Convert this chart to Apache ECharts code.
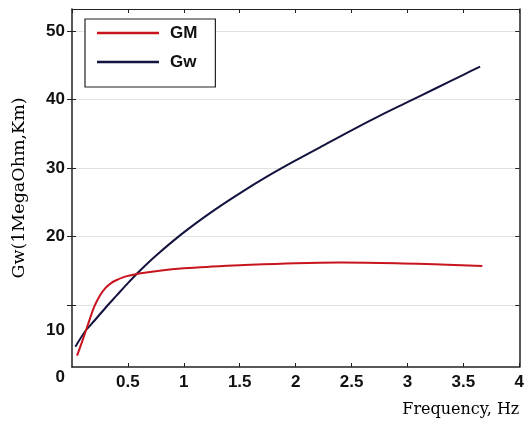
<!DOCTYPE html>
<html>
<head>
<meta charset="utf-8">
<script src="https://cdn.jsdelivr.net/npm/echarts@6/dist/echarts.min.js"></script>
<style>html,body{margin:0;padding:0;background:#fff}#c{width:527px;height:422px}</style>
</head>
<body>
<div id="c"></div>
<script>
// ---- data ----
var gmFreq = [0.045,0.1,0.15,0.2,0.25,0.3,0.35,0.4,0.45,0.5,0.6,0.8,1.0,1.25,1.5,2.0,2.4,2.9,3.3,3.67];
var gmVal  = [2.6,5.1,7.5,9.8,11.4,12.5,13.2,13.65,14.0,14.25,14.6,15.05,15.35,15.6,15.8,16.1,16.2,16.1,15.9,15.7];
var gwFreq = [0.03,0.12,0.2,0.3,0.4,0.5,0.6,0.75,1.0,1.25,1.5,1.75,2.0,2.25,2.5,2.75,3.0,3.25,3.5,3.65];
var gwVal  = [3.9,6.2,7.7,9.6,11.4,13.2,14.9,17.2,20.6,23.6,26.3,28.8,31.1,33.3,35.5,37.6,39.6,41.6,43.6,44.8];
var seriesNames = ['GM','Gw'];
var yTicks = [10,20,30,40,50];
var Y_MIN = 0.95, Y_MAX = 53.2, X_MIN = 0, X_MAX = 4;

function pairs(xs, ys){ return xs.map(function(x,i){ return [x, ys[i]]; }); }

var labelFont = {fontFamily:'Liberation Sans, Arial, sans-serif', fontSize:17, fontWeight:'bold', color:'#111'};
var axisCol = '#222';

var chart = echarts.init(document.getElementById('c'), null, {renderer:'canvas'});
chart.setOption({
  animation:false,
  backgroundColor:'#fff',
  grid:{left:72, right:2, top:9, bottom:55, containLabel:false},
  legend:{
    data:seriesNames, orient:'vertical', left:85, top:19,
    icon:'rect', itemWidth:62, itemHeight:2.5, itemGap:9,
    padding:[4,18,15,12],
    borderColor:'#222', borderWidth:1.2, backgroundColor:'#fff',
    textStyle:{fontFamily:'Liberation Sans, Arial, sans-serif', fontSize:17, fontWeight:'bold', color:'#111', lineHeight:20, padding:[0,0,0,6]}
  },
  xAxis:[{
    type:'value', position:'bottom', min:X_MIN, max:X_MAX, interval:0.5,
    axisLine:{show:true, onZero:false, lineStyle:{color:axisCol, width:1.5}},
    axisTick:{show:true, inside:true, length:4, lineStyle:{color:axisCol}},
    axisLabel:Object.assign({margin:7, showMinLabel:false}, labelFont),
    splitLine:{show:false},
    name:'Frequency, Hz', nameLocation:'end', nameGap:0,
    nameTextStyle:{fontFamily:'DejaVu Serif, serif', fontSize:16, color:'#000', align:'right', verticalAlign:'top', padding:[35,0,0,0]}
  },{
    type:'value', position:'top', min:X_MIN, max:X_MAX, interval:0.5,
    axisLine:{show:true, onZero:false, lineStyle:{color:axisCol, width:1.2}},
    axisTick:{show:true, inside:true, length:4, lineStyle:{color:axisCol}},
    axisLabel:{show:false}, splitLine:{show:false}
  }],
  yAxis:[{
    type:'value', position:'left', min:Y_MIN, max:Y_MAX,
    axisLine:{show:true, onZero:false, lineStyle:{color:axisCol, width:1.5}},
    axisTick:{show:true, inside:false, length:5, customValues:yTicks, lineStyle:{color:axisCol}},
    axisLabel:Object.assign({
      margin:7,
      customValues:[Y_MIN].concat(yTicks),
      formatter:function(v){
        if (Math.abs(v-Y_MIN)<1e-6) return '{z|0}';
        if (v===10) return '{t|10}';
        return '{n|'+v+'}';
      },
      rich:{
        z:Object.assign({padding:[20,0,0,0]}, labelFont),
        t:Object.assign({padding:[50,0,0,0]}, labelFont),
        n:Object.assign({}, labelFont)
      }
    }, labelFont),
    splitLine:{show:true, lineStyle:{color:'#e2e2e2', width:1}},
    name:'Gw(1MegaOhm,Km)', nameLocation:'middle', nameGap:44, nameRotate:90,
    nameTextStyle:{fontFamily:'DejaVu Serif, serif', fontSize:17.5, color:'#000'}
  },{
    type:'value', position:'left', min:Y_MIN, max:Y_MAX,
    axisLine:{show:false},
    axisTick:{show:true, inside:true, length:4, customValues:yTicks, lineStyle:{color:axisCol}},
    axisLabel:{show:false}, splitLine:{show:false}
  },{
    type:'value', position:'right', min:Y_MIN, max:Y_MAX,
    axisLine:{show:true, onZero:false, lineStyle:{color:axisCol, width:1.5}},
    axisTick:{show:true, inside:true, length:4, customValues:yTicks, lineStyle:{color:axisCol}},
    axisLabel:{show:false}, splitLine:{show:false}
  }],
  series:[{
    name:seriesNames[0], type:'line', data:pairs(gmFreq, gmVal), smooth:0.4, symbol:'none',
    xAxisIndex:0, yAxisIndex:0, z:3,
    lineStyle:{color:'#c8141e', width:2}, itemStyle:{color:'#c8141e'}
  },{
    name:seriesNames[1], type:'line', data:pairs(gwFreq, gwVal), smooth:0.3, symbol:'none',
    xAxisIndex:0, yAxisIndex:0, z:2,
    lineStyle:{color:'#13133f', width:2}, itemStyle:{color:'#13133f'}
  }]
});
</script>
</body>
</html>
